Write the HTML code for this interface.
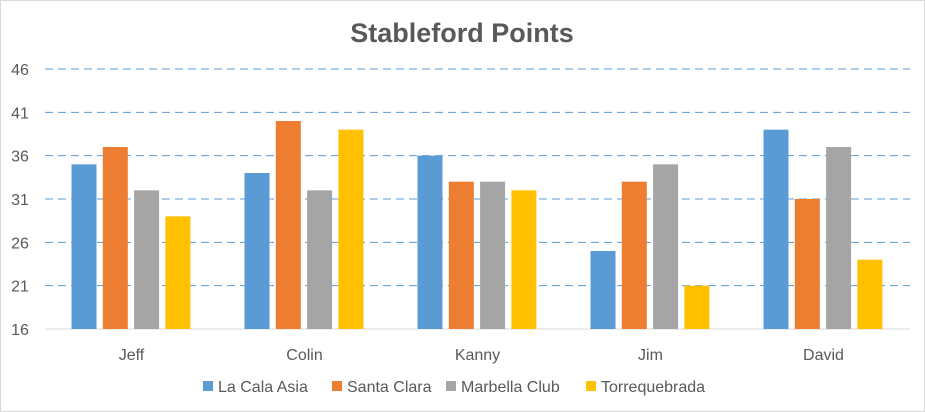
<!DOCTYPE html>
<html><head><meta charset="utf-8"><style>
body{margin:0;background:#fff;}
svg{display:block;font-family:"Liberation Sans",sans-serif;}
</style></head><body>
<svg id="chart" width="925" height="412">
<rect x="0.5" y="0.5" width="924" height="411" fill="#fff" stroke="#d9d9d9"/>
<text x="462" y="42" text-anchor="middle" font-size="27" font-weight="bold" fill="#595959">Stableford Points</text>
<g id="grid"></g><g id="bars"></g><g id="labels"></g><g id="legend"></g>
</svg>
<script>
const categories=["Jeff","Colin","Kanny","Jim","David"];
const seriesNames=["La Cala Asia","Santa Clara","Marbella Club","Torrequebrada"];
const laCala=[35,34,36,25,39];
const santaClara=[37,40,33,33,31];
const marbella=[32,32,33,35,37];
const torre=[29,39,32,21,24];
const yTicks=[16,21,26,31,36,41,46];
const colors=["#5b9bd5","#ed7d31","#a5a5a5","#ffc000"];
const series=[laCala,santaClara,marbella,torre];
const NS="http://www.w3.org/2000/svg";
const L=45,R=910,T=69,B=329,yMin=16,yMax=46;
const y=v=>B-(v-yMin)/(yMax-yMin)*(B-T);
const bw=(R-L)/categories.length;
function mk(t,a,p){const e=document.createElementNS(NS,t);for(const k in a)e.setAttribute(k,a[k]);p.appendChild(e);return e;}
const g=document.getElementById('grid');
yTicks.forEach(v=>{
  if(v>yMin){const l=mk('line',{x1:L,x2:R,y1:y(v),y2:y(v),stroke:'#5b9bd5','stroke-dasharray':'8,5','stroke-width':1},g);
  
  }
  const t=mk('text',{x:20,y:y(v)+6,'text-anchor':'middle','font-size':16,fill:'#595959'},g);t.textContent=v;
  
  
});
const ax=mk('line',{x1:L,x2:R,y1:B,y2:B,stroke:'#d9d9d9','stroke-width':1},g);


const bg=document.getElementById('bars');
categories.forEach((c,i)=>{
  const cx=L+bw*(i+0.5);
  series.forEach((s,j)=>{
    const x=cx-60+j*31.3;
    const r=mk('rect',{x:x,y:y(s[i]),width:25,height:B-y(s[i]),fill:colors[j]},bg);
    
    
  });
  const t=mk('text',{x:cx,y:360,'text-anchor':'middle','font-size':16,fill:'#595959'},document.getElementById('labels'));t.textContent=c;
  
  
});
const lg=document.getElementById('legend');
const lx=[203,332,446,586];
seriesNames.forEach((n,j)=>{
  const r=mk('rect',{x:lx[j],y:381,width:10,height:10,fill:colors[j]},lg);
  
  
  const t=mk('text',{x:lx[j]+15,y:392,'font-size':16,fill:'#595959'},lg);t.textContent=n;
  
  
});
</script>
</body></html>
